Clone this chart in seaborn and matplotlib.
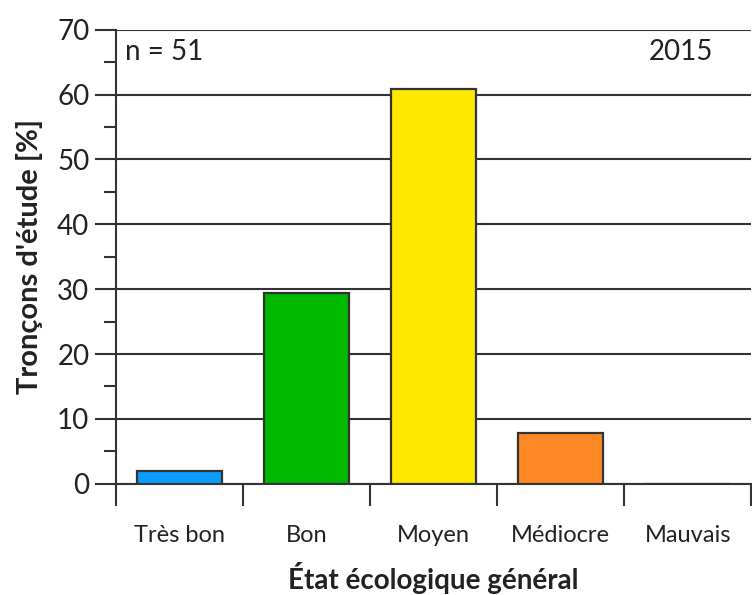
import matplotlib
matplotlib.use("Agg")
import matplotlib.pyplot as plt
import seaborn as sns
import pandas as pd
from matplotlib.ticker import MultipleLocator, FixedLocator

# data (share of study reaches, n = 51)
etats = ["Très bon", "Bon", "Moyen", "Médiocre", "Mauvais"]
pourcentages = [1.96, 29.4, 60.8, 7.8, 0.0]
couleurs = ["#0a9bff", "#00b800", "#ffe800", "#ff8a25", "#c00000"]

df = pd.DataFrame({"etat": etats, "pct": pourcentages})

sns.set_style("white")
plt.rcParams["font.family"] = ["Lato", "DejaVu Sans"]
txt = "#222222"

fig = plt.figure(figsize=(7.52, 5.95), dpi=100)
ax = fig.add_axes([0.154, 0.187, 0.845, 0.763])

sns.barplot(data=df, x="etat", y="pct", hue="etat", palette=couleurs,
            order=etats, legend=False, width=0.67, edgecolor="#333333",
            linewidth=1.6, saturation=1, ax=ax, zorder=3)

ax.set_ylim(0, 70)
ax.set_xlim(-0.5, 4.5)
ax.yaxis.set_major_locator(MultipleLocator(10))
ax.yaxis.set_minor_locator(MultipleLocator(5))
ax.grid(axis="y", which="major", color="#333333", linewidth=1.5, zorder=0)
ax.set_axisbelow(True)

# x ticks on category boundaries
ax.xaxis.set_minor_locator(FixedLocator([-0.5, 0.5, 1.5, 2.5, 3.5, 4.5]))
ax.tick_params(axis="x", which="major", bottom=True, length=0, pad=30, labelsize=17, labelcolor=txt)
ax.tick_params(axis="x", which="minor", bottom=True, length=16, width=1.5, color="#333333", direction="out")
ax.tick_params(axis="y", which="major", left=True, length=15, width=1.5, color="#333333",
               direction="out", labelsize=20, labelcolor=txt, pad=4)
ax.tick_params(axis="y", which="minor", left=True, length=9, width=1.5, color="#333333", direction="out")

for s in ["top", "right"]:
    ax.spines[s].set_visible(False)
for s in ["left", "bottom"]:
    ax.spines[s].set_color("#333333")
    ax.spines[s].set_linewidth(1.5)

ax.set_xlabel("État écologique général", fontsize=20, fontweight="bold", color=txt, labelpad=11)
ax.set_ylabel("Tronçons d'étude [%]", fontsize=21, fontweight="bold", color=txt, labelpad=10)

ax.text(0.015, 0.95, "n = 51", transform=ax.transAxes, fontsize=20, color=txt,
        ha="left", va="center")
ax.text(0.94, 0.95, "2015", transform=ax.transAxes, fontsize=20, color=txt,
        ha="right", va="center")

fig.savefig("out.png", dpi=100)
